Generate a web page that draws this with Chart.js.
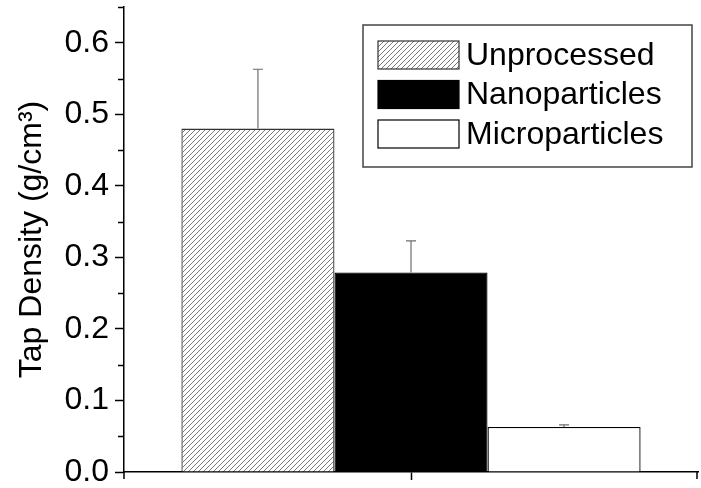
<!DOCTYPE html>
<html lang="en">
<head>
    <title>Tap Density</title>
    <script src="https://cdn.jsdelivr.net/npm/chart.js@4.4.1/dist/chart.umd.min.js"></script>
    <style>
        html, body { margin: 0; padding: 0; background: #fff; }
        #wrap { width: 701px; height: 488px; }
    </style>
</head>
<body>
    <div id="wrap"><canvas id="chart" width="701" height="488"></canvas></div>

    <script>
        // data
        const seriesNames = ['Unprocessed', 'Nanoparticles', 'Microparticles'];
        const tapDensity = [0.48, 0.279, 0.063];
        const errorUp = [0.083, 0.044, 0.003];
        const categories = [''];
        const yMin = 0, yMax = 0.65, yStep = 0.05;

        const FONT = 'Liberation Sans, Arial, sans-serif';
        const FSIZE = 32;

        // diagonal hatch for the unprocessed bar
        function makeHatch() {
            const s = 5;
            const c = document.createElement('canvas');
            c.width = s; c.height = s;
            const g = c.getContext('2d');
            g.fillStyle = '#fff';
            g.fillRect(0, 0, s, s);
            g.strokeStyle = '#7a7a7a';
            g.lineWidth = 1;
            g.beginPath();
            g.moveTo(0, s); g.lineTo(s, 0);
            g.moveTo(-1, 1); g.lineTo(1, -1);
            g.moveTo(s - 1, s + 1); g.lineTo(s + 1, s - 1);
            g.stroke();
            return g.createPattern(c, 'repeat');
        }
        const hatch = makeHatch();

        const fills = [hatch, '#000', '#fff'];
        const borders = ['#333', '#000', '#000'];

        const errorBars = {
            id: 'errorBars',
            afterDatasetsDraw(chart) {
                const ctx = chart.ctx;
                const y = chart.scales.y;
                ctx.save();
                ctx.strokeStyle = '#6e6e6e';
                ctx.lineWidth = 1.2;
                chart.data.datasets.forEach((ds, i) => {
                    const el = chart.getDatasetMeta(i).data[0];
                    const top = y.getPixelForValue(ds.data[0] + ds.err);
                    ctx.beginPath();
                    ctx.moveTo(el.x, el.y);
                    ctx.lineTo(el.x, top);
                    ctx.moveTo(el.x - 5, top);
                    ctx.lineTo(el.x + 5, top);
                    ctx.stroke();
                });
                ctx.restore();
            }
        };

        const extras = {
            id: 'extras',
            afterDraw(chart) {
                const ctx = chart.ctx;
                const a = chart.chartArea;
                const y = chart.scales.y;
                ctx.save();
                ctx.strokeStyle = '#000';
                ctx.lineWidth = 1.5;
                // minor y ticks
                ctx.beginPath();
                for (let v = yStep; v <= yMax + 1e-9; v += 2 * yStep) {
                    const py = Math.round(y.getPixelForValue(v)) + 0.5;
                    ctx.moveTo(a.left - 6, py);
                    ctx.lineTo(a.left, py);
                }
                // x-axis end ticks
                ctx.moveTo(a.left, a.bottom); ctx.lineTo(a.left, a.bottom + 7);
                ctx.moveTo(a.right - 1, a.bottom); ctx.lineTo(a.right - 1, a.bottom + 7);
                ctx.stroke();

                // legend box
                const bx = 363, by = 25, bw = 329, bh = 142;
                ctx.strokeStyle = '#444';
                ctx.lineWidth = 1.5;
                ctx.strokeRect(bx, by, bw, bh);
                ctx.font = FSIZE + 'px ' + FONT;
                ctx.textBaseline = 'middle';
                ctx.textAlign = 'left';
                chart.data.datasets.forEach((ds, i) => {
                    const ry = 41 + i * 39.5;
                    ctx.fillStyle = ds.backgroundColor;
                    ctx.fillRect(378, ry, 81, 28);
                    ctx.strokeStyle = ds.borderColor;
                    ctx.lineWidth = 1.2;
                    ctx.strokeRect(378, ry, 81, 28);
                    ctx.fillStyle = '#000';
                    ctx.fillText(ds.label, 466, ry + 15);
                });
                ctx.restore();
            }
        };

        const chart = new Chart(document.getElementById('chart').getContext('2d'), {
            type: 'bar',
            data: {
                labels: categories,
                datasets: seriesNames.map((name, i) => ({
                    label: name,
                    data: [tapDensity[i]],
                    err: errorUp[i],
                    backgroundColor: fills[i],
                    borderColor: borders[i],
                    borderWidth: 1.3,
                    categoryPercentage: 0.8,
                    barPercentage: 1.0
                }))
            },
            options: {
                responsive: false,
                animation: false,
                events: [],
                layout: { padding: { top: 7, right: 3, left: 0, bottom: 0 } },
                plugins: {
                    legend: { display: false },
                    tooltip: { enabled: false }
                },
                scales: {
                    x: {
                        grid: { display: true, drawOnChartArea: false, offset: false, tickLength: 8, tickColor: '#000', tickWidth: 1.5 },
                        border: { color: '#000', width: 1.5 },
                        ticks: { display: false },
                        afterFit(s) { s.height = 16; }
                    },
                    y: {
                        min: yMin,
                        max: yMax,
                        grid: {
                            drawOnChartArea: false,
                            tickLength: 9,
                            tickWidth: 1.5,
                            tickColor: (c) => (c.index % 2 === 0 ? '#000' : 'rgba(0,0,0,0)')
                        },
                        border: { color: '#000', width: 1.5 },
                        ticks: {
                            stepSize: yStep,
                            color: '#000',
                            padding: 6,
                            font: { family: FONT, size: FSIZE },
                            callback: (v, i) => (i % 2 === 0 ? Number(v).toFixed(1) : '')
                        },
                        title: {
                            display: true,
                            text: 'Tap Density (g/cm³)',
                            color: '#000',
                            font: { family: FONT, size: FSIZE },
                            padding: { top: 13, bottom: 0 }
                        },
                        afterFit(s) {
                            s.width = 124;
                            s.paddingTop = 0;
                            s.paddingBottom = 0;
                        }
                    }
                }
            },
            plugins: [errorBars, extras]
        });
    </script>
</body>
</html>
